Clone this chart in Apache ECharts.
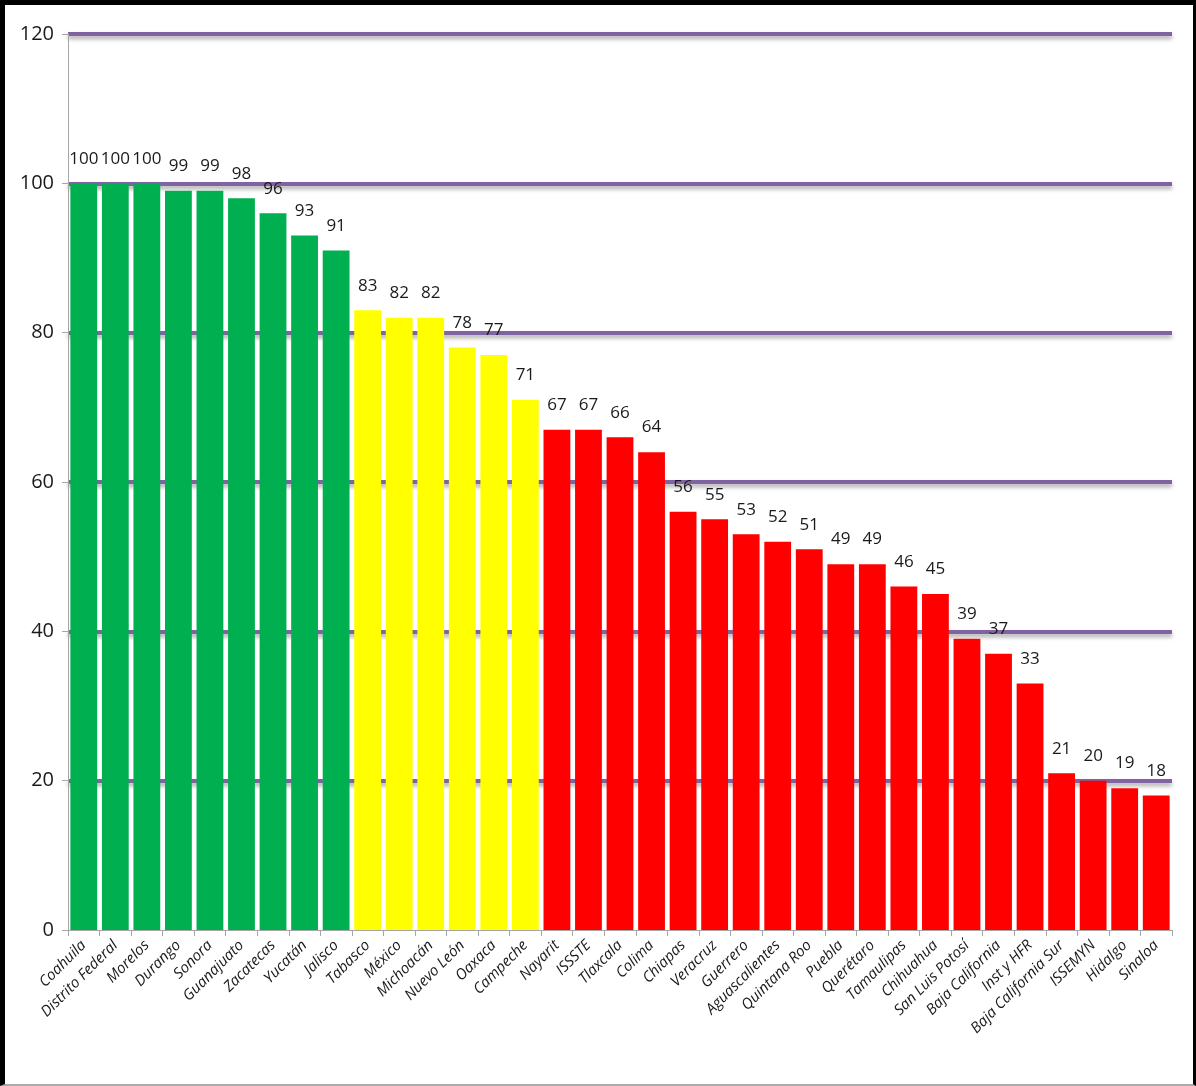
<!DOCTYPE html>
<html>
<head>
<meta charset="utf-8">
<script src="https://cdn.jsdelivr.net/npm/echarts@6/dist/echarts.min.js"></script>
<style>
  html, body { margin: 0; padding: 0; background: #fff; }
  #box { position: relative; width: 1196px; height: 1086px; }
  #chart { position: absolute; left: 0; top: 0; width: 1196px; height: 1086px; }
  #frame {
    position: absolute; left: 0; top: 0; width: 1196px; height: 1086px;
    box-sizing: border-box; pointer-events: none;
    border-left: 5px solid #000; border-top: 5px solid #000;
    border-right: 3px solid #000; border-bottom: 2px solid #aaa;
  }
</style>
</head>
<body>
<div id="box">
  <div id="chart"></div>
  <div id="frame"></div>
</div>
<script>
  var categories = ['Coahuila', 'Distrito Federal', 'Morelos', 'Durango', 'Sonora', 'Guanajuato', 'Zacatecas', 'Yucatán', 'Jalisco',
    'Tabasco', 'México', 'Michoacán', 'Nuevo León', 'Oaxaca', 'Campeche',
    'Nayarit', 'ISSSTE', 'Tlaxcala', 'Colima', 'Chiapas', 'Veracruz', 'Guerrero', 'Aguascalientes', 'Quintana Roo', 'Puebla',
    'Querétaro', 'Tamaulipas', 'Chihuahua', 'San Luis Potosí', 'Baja California', 'Inst y HFR', 'Baja California Sur', 'ISSEMYN', 'Hidalgo', 'Sinaloa'];
  var values = [100, 100, 100, 99, 99, 98, 96, 93, 91,
    83, 82, 82, 78, 77, 71,
    67, 67, 66, 64, 56, 55, 53, 52, 51, 49, 49, 46, 45, 39, 37, 33, 21, 20, 19, 18];
  // semaforo: verde >= 90, amarillo >= 70, rojo el resto
  var limits = [90, 70];
  var colors = ['#00b050', '#ffff00', '#ff0000'];

  function colorFor(v) {
    if (v >= limits[0]) return colors[0];
    if (v >= limits[1]) return colors[1];
    return colors[2];
  }

  var myChart = echarts.init(document.getElementById('chart'));
  var font = '"Open Sans", "DejaVu Sans", sans-serif';

  var option = {
    animation: false,
    grid: { left: 68, right: 24, top: 34, bottom: 156 },
    xAxis: {
      type: 'category',
      data: categories,
      axisLine: { lineStyle: { color: '#a6a6a6', width: 1 } },
      axisTick: { show: true, length: 6, lineStyle: { color: '#a6a6a6' } },
      axisLabel: {
        rotate: 45,
        interval: 0,
        margin: 13,
        fontSize: 15,
        fontStyle: 'italic',
        fontFamily: font,
        color: '#1a1a1a'
      },
      splitLine: { show: false }
    },
    yAxis: {
      type: 'value',
      min: 0,
      max: 120,
      interval: 20,
      axisLine: { show: true, lineStyle: { color: '#a6a6a6', width: 1 } },
      axisTick: { show: true, length: 6, lineStyle: { color: '#a6a6a6' } },
      axisLabel: { fontSize: 20, fontFamily: font, color: '#1a1a1a', margin: 14 },
      splitLine: {
        show: true,
        showMinLine: false,
        lineStyle: {
          color: '#8064a2',
          width: 4,
          shadowColor: 'rgba(0,0,0,0.35)',
          shadowBlur: 4,
          shadowOffsetY: 3
        }
      }
    },
    series: [{
      type: 'bar',
      barCategoryGap: '15%',
      data: values.map(function (v) {
        return { value: v, itemStyle: { color: colorFor(v) } };
      }),
      label: {
        show: true,
        position: 'top',
        distance: 16,
        fontSize: 17,
        fontFamily: font,
        color: '#1a1a1a'
      }
    }]
  };
  myChart.setOption(option);
</script>
</body>
</html>
